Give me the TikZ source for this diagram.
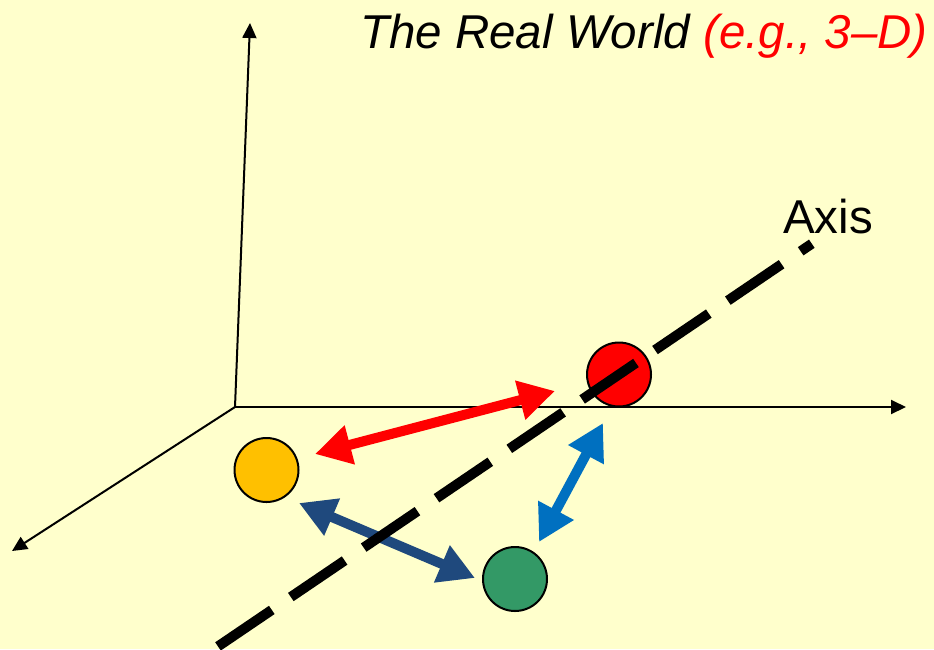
\documentclass[tikz,border=0pt]{standalone}
\usepackage{fontspec}
\setmainfont{Liberation Sans}
\usetikzlibrary{arrows.meta}
\definecolor{bgyellow}{HTML}{FFFFCC}
\definecolor{ballorange}{HTML}{FFC000}
\definecolor{ballgreen}{HTML}{339966}
\definecolor{ballred}{HTML}{FF0000}
\definecolor{darkblue}{HTML}{1F497D}
\definecolor{midblue}{HTML}{0070C0}
\tikzset{
  axisline/.style={line width=2pt,-{Triangle[length=15pt,width=14pt]}},
  ball/.style={circle,draw=black,line width=2pt,minimum size=64pt,inner sep=0pt},
  dbl/.style={line width=10pt,{Triangle[length=36pt,width=38pt]}-{Triangle[length=36pt,width=38pt]}},
  axisdash/.style={line width=10pt,dash pattern=on 65pt off 23pt},
  label/.style={inner sep=0pt,font=\fontsize{47.5}{56}\selectfont}
}
\begin{document}
\begin{tikzpicture}[x=1pt,y=-1pt]
\fill[bgyellow] (0,0) rectangle (934,649);
\useasboundingbox (0,0) rectangle (934,649);
% axes
\coordinate (O) at (235,407);
\coordinate (up) at (250,23);
\coordinate (right) at (906,407);
\coordinate (left) at (12,551);
\draw[axisline] (O) -- (up);
\draw[axisline] (O) -- (right);
\draw[axisline] (O) -- (left);
% balls
\node[ball,fill=ballred] (red) at (619,374.5) {};
\node[ball,fill=ballorange] (orange) at (266.5,470) {};
\node[ball,fill=ballgreen] (green) at (515,579) {};
% arrows
\coordinate (r1) at (315,454);
\coordinate (r2) at (555,391);
\coordinate (d1) at (299,503);
\coordinate (d2) at (475,578);
\coordinate (b1) at (603,423);
\coordinate (b2) at (539,542);
\draw[dbl,ballred] (r1) -- (r2);
\draw[dbl,darkblue] (d1) -- (d2);
\draw[dbl,midblue] (b1) -- (b2);
% dashed axis
\coordinate (a1) at (218,646.4);
\coordinate (a2) at (811.8,243.7);
\draw[axisdash] (a1) -- (a2);
% texts
\node[label,anchor=base east] (title) at (928,48) {\itshape The Real World \textcolor{ballred}{(e.g., 3--D)}};
\node[label,anchor=base west] (axis) at (783,233) {Axis};
\end{tikzpicture}
\end{document}
